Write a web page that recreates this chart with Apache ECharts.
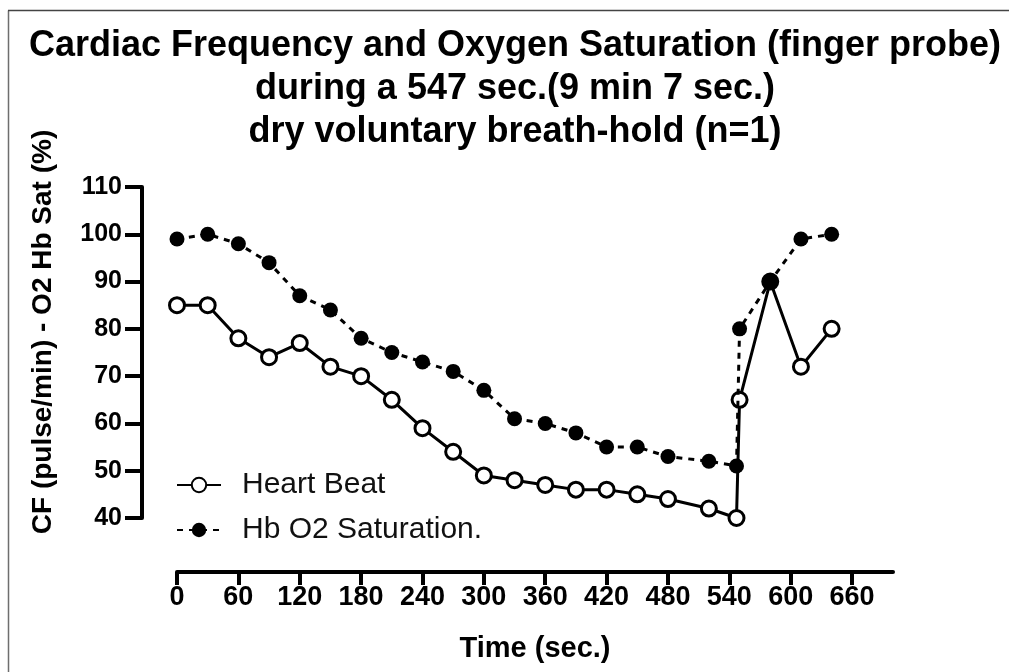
<!DOCTYPE html>
<html>
<head>
<meta charset="utf-8">
<script src="https://cdn.jsdelivr.net/npm/echarts@6/dist/echarts.min.js"></script>
<style>
html,body{margin:0;padding:0;background:#fff;}
#chart{width:1009px;height:672px;}
</style>
</head>
<body>
<div id="chart"></div>
<script>
// Data
const timeSec = [0,30,60,90,120,150,180,210,240,270,300,330,360,390,420,450,480,520,547,550,580,610,640];
const heartBeat = [85,85,78,74,77,72,70,65,59,54,49,48,47,46,46,45,44,42,40,65,90,72,80];
const hbO2Sat = [99,100,98,94,87,84,78,75,73,71,67,61,60,58,55,55,53,52,51,80,90,99,100];
const xTicks = [0,60,120,180,240,300,360,420,480,540,600,660];
const yTicks = [40,50,60,70,80,90,100,110];
const seriesNames = ['Heart Beat', 'Hb O2 Saturation.'];
const titleText = 'Cardiac Frequency and Oxygen Saturation (finger probe)\nduring a 547 sec.(9 min 7 sec.)\ndry voluntary breath-hold (n=1)';
const yTitle = 'CF (pulse/min) - O2 Hb Sat (%)';
const xTitle = 'Time (sec.)';

const FONT = '"Liberation Sans", Arial, sans-serif';
const chart = echarts.init(document.getElementById('chart'), null, {renderer: 'canvas'});

const pairs = (xs, ys) => xs.map((x, i) => [x, ys[i]]);

const option = {
  backgroundColor: '#fff',
  animation: false,
  title: {
    text: titleText,
    left: 515,
    top: 25,
    padding: 0,
    textAlign: 'center',
    textStyle: {fontFamily: FONT, fontWeight: 'bold', fontSize: 36, lineHeight: 43, color: '#000'}
  },
  grid: {left: 177, right: 116, top: 187, bottom: 154, containLabel: false},
  legend: {
    orient: 'vertical',
    left: 176,
    top: 470,
    padding: 0,
    itemWidth: 44,
    itemHeight: 18,
    itemGap: 15,
    data: seriesNames,
    textStyle: {fontFamily: FONT, fontSize: 30, lineHeight: 30, color: '#111', padding: [0,0,0,16]}
  },
  xAxis: {
    type: 'value',
    min: 0,
    max: 700,
    interval: 60,
    offset: 54,
    splitLine: {show: false},
    axisLine: {show: true, onZero: false, lineStyle: {color: '#000', width: 4}},
    axisTick: {show: true, length: 13, lineStyle: {color: '#000', width: 4},
      customValues: xTicks},
    axisLabel: {fontFamily: FONT, fontWeight: 'bold', fontSize: 27, color: '#000', margin: 12,
      customValues: xTicks},
    name: xTitle,
    nameLocation: 'middle',
    nameGap: 62,
    nameTextStyle: {fontFamily: FONT, fontWeight: 'bold', fontSize: 29, color: '#000'}
  },
  yAxis: {
    type: 'value',
    min: 40,
    max: 110,
    interval: 10,
    offset: 35,
    splitLine: {show: false},
    axisLine: {show: true, onZero: false, lineStyle: {color: '#000', width: 4}},
    axisTick: {show: true, length: 17, lineStyle: {color: '#000', width: 4},
      customValues: yTicks},
    axisLabel: {fontFamily: FONT, fontWeight: 'bold', fontSize: 25, color: '#000', margin: 20,
      customValues: yTicks}
  },
  graphic: [
    {type: 'line', shape: {x1: 8.5, y1: 10.5, x2: 8.5, y2: 672}, style: {stroke: '#6e6e6e', lineWidth: 1.5}},
    {type: 'line', shape: {x1: 8, y1: 10.5, x2: 1009, y2: 10.5}, style: {stroke: '#444', lineWidth: 1.5}},
    {type: 'text', x: 43, y: 332, rotation: Math.PI / 2,
      style: {text: yTitle, fontFamily: FONT, fontWeight: 'bold', fontSize: 28, fill: '#000',
        align: 'center', verticalAlign: 'middle'}}
  ],
  series: [
    {
      name: seriesNames[0],
      type: 'line',
      data: pairs(timeSec, heartBeat),
      symbol: 'circle',
      symbolSize: 15,
      itemStyle: {color: '#fff', borderColor: '#000', borderWidth: 3},
      lineStyle: {color: '#000', width: 3, type: 'solid'},
      z: 2
    },
    {
      name: seriesNames[1],
      type: 'line',
      data: pairs(timeSec, hbO2Sat),
      symbol: 'circle',
      symbolSize: 15,
      itemStyle: {color: '#000', borderColor: '#000', borderWidth: 0},
      lineStyle: {color: '#000', width: 3, type: [6, 6]},
      z: 3
    }
  ]
};
chart.setOption(option);
</script>
</body>
</html>
